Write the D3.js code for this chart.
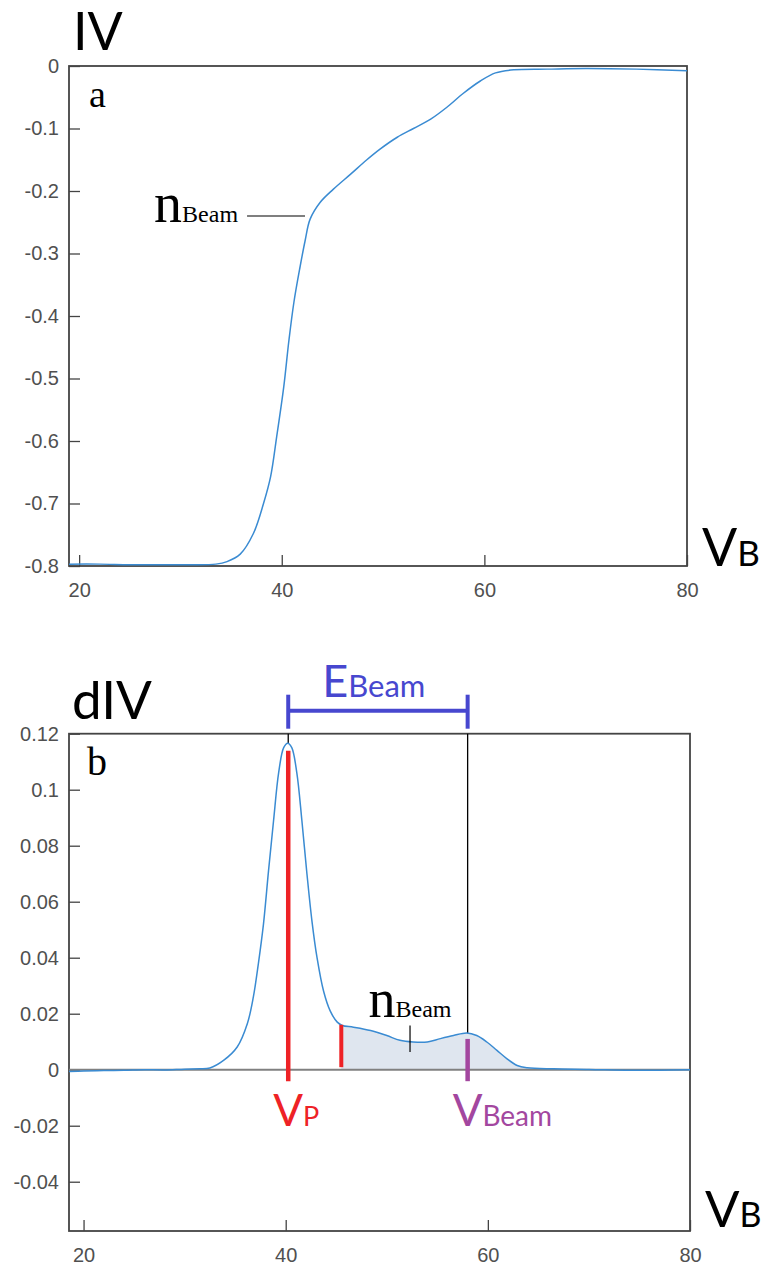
<!DOCTYPE html>
<html>
<head>
<meta charset="utf-8">
<script src="https://cdn.jsdelivr.net/npm/d3@7"></script>
<style>
  html, body { margin: 0; padding: 0; background: #fff; }
  svg { display: block; }
</style>
</head>
<body>
<svg id="chart" width="764" height="1268"></svg>
<script>
// ---------- DATA ----------
// Panel a: IV curve
const vbA = [19.0, 22, 25, 28, 31, 33.5, 34.6, 35.9, 37.2, 38.2, 38.9, 39.5, 40.2, 40.7, 41.2, 41.8, 42.3, 42.8, 43.8, 45.1, 46.8, 48.4, 49.7, 51.4, 53.0, 54.7, 56.3, 57.9, 59.6, 61.1, 62.9, 66.2, 70, 75, 80];
const ivA = [-0.797, -0.797, -0.798, -0.798, -0.798, -0.797, -0.793, -0.781, -0.748, -0.700, -0.657, -0.593, -0.513, -0.440, -0.378, -0.322, -0.280, -0.245, -0.218, -0.197, -0.173, -0.150, -0.133, -0.114, -0.100, -0.085, -0.066, -0.044, -0.024, -0.011, -0.006, -0.005, -0.004, -0.005, -0.0075];

// Panel b: dIV curve
const vbB = [18.56, 20, 22, 24, 26, 28, 30, 31.5, 32.5, 33.85, 35.2, 36.2, 36.8, 37.3, 37.8, 38.3, 38.8, 39.3, 39.8, 40.2, 40.6, 41.1, 41.6, 42.1, 42.6, 43.1, 43.75, 44.4, 45.1, 45.6, 46.7, 48.4, 50.0, 51.3, 52.6, 54.0, 55.3, 56.6, 57.9, 58.9, 59.9, 60.9, 61.9, 62.9, 63.9, 66.5, 70, 74, 77, 80];
const divB = [-0.0006, -0.0005, -0.0003, -0.0002, 0.0000, -0.0001, 0.0002, 0.0003, 0.0006, 0.0033, 0.0081, 0.0164, 0.026, 0.038, 0.052, 0.071, 0.089, 0.106, 0.115, 0.1166, 0.115, 0.106, 0.089, 0.070, 0.053, 0.040, 0.028, 0.021, 0.017, 0.0158, 0.0152, 0.014, 0.0122, 0.0105, 0.0099, 0.0099, 0.0111, 0.0122, 0.0131, 0.0122, 0.0099, 0.0069, 0.0039, 0.0015, 0.0007, 0.0003, 0.0001, -0.0002, -0.0002, 0.0000];

// Tick values
const xTicks = [20, 40, 60, 80];
const yTicksA = [0, -0.1, -0.2, -0.3, -0.4, -0.5, -0.6, -0.7, -0.8];
const yTicksB = [0.12, 0.1, 0.08, 0.06, 0.04, 0.02, 0, -0.02, -0.04];

// Annotation values
const nBeamA = [42.3, -0.24];   // point marked on IV curve
const vP = 40.25;               // plasma potential
const vBeam = 58;               // beam potential
const nStart = 45.5;            // start of beam density region
const nMarkB = 52.3;            // nBeam marker in panel b

// ---------- DRAW ----------
const svg = d3.select("#chart");
const curveColor = "#3a8bd2";
const frameColor = "#444";
const tickFont = "'Liberation Sans', Arial, sans-serif";
const labelFont = "Lato, 'Open Sans', sans-serif";
const serifFont = "'Liberation Serif', 'Times New Roman', serif";
const smooth = d3.curveCatmullRom.alpha(0.5);

function drawFrame(x, y, xt, yt) {
  const [x0, x1] = x.range();
  const [y0, y1] = y.range(); // y0 bottom, y1 top
  const gx = svg.append("g").attr("transform", `translate(0,${y0})`)
    .call(d3.axisBottom(x).tickValues(xt).tickSizeInner(-11).tickSizeOuter(0).tickPadding(17).tickFormat(d => String(d)));
  const gy = svg.append("g").attr("transform", `translate(${x0},0)`)
    .call(d3.axisLeft(y).tickValues(yt).tickSizeInner(-11).tickSizeOuter(0).tickPadding(10).tickFormat(d => String(d)));
  [gx, gy].forEach(g => {
    g.select(".domain").remove();
    g.selectAll(".tick line").attr("stroke", frameColor).attr("stroke-width", 1.3);
    g.selectAll(".tick text").attr("fill", "#505050").style("font-family", tickFont).style("font-size", "20px");
  });
  svg.append("rect").attr("x", x0).attr("y", y1).attr("width", x1 - x0).attr("height", y0 - y1)
    .attr("fill", "none").attr("stroke", frameColor).attr("stroke-width", 1.8);
}

// ----- Panel a -----
const xA = d3.scaleLinear().domain([19, 80]).range([69, 687]);
const yA = d3.scaleLinear().domain([-0.8, 0]).range([566, 66]);
const dataA = vbA.map((v, i) => [v, ivA[i]]);

drawFrame(xA, yA, xTicks, yTicksA);

svg.append("path").datum(dataA)
  .attr("d", d3.line().x(d => xA(d[0])).y(d => yA(d[1])).curve(smooth))
  .attr("fill", "none").attr("stroke", curveColor).attr("stroke-width", 1.5);

// labels panel a
svg.append("text").attr("x", xA.range()[0] + 4).attr("y", yA.range()[1] - 16)
  .style("font-family", labelFont).style("font-size", "52px").attr("fill", "#000").text("IV");
svg.append("text").attr("x", xA.range()[0] + 20).attr("y", yA.range()[1] + 41)
  .style("font-family", serifFont).style("font-size", "38px").attr("fill", "#000").text("a");
{
  const t = svg.append("text").attr("x", xA.range()[1] + 15).attr("y", yA.range()[0])
    .style("font-family", labelFont).attr("fill", "#000");
  t.append("tspan").style("font-size", "52px").text("V");
  t.append("tspan").style("font-size", "35px").text("B");
}
{
  const ex = xA(nBeamA[0]), ey = yA(nBeamA[1]);
  svg.append("line").attr("x1", ex - 58).attr("x2", ex).attr("y1", ey).attr("y2", ey)
    .attr("stroke", "#000").attr("stroke-width", 1.2);
  const t = svg.append("text").attr("x", ex - 67).attr("y", ey + 6).attr("text-anchor", "end")
    .style("font-family", serifFont).attr("fill", "#000");
  t.append("tspan").style("font-size", "56px").text("n");
  t.append("tspan").style("font-size", "24px").text("Beam");
}

// ----- Panel b -----
const xB = d3.scaleLinear().domain([18.56, 80]).range([69, 690]);
const yB = d3.scaleLinear().domain([-0.0576, 0.12]).range([1231, 733.7]);
const dataB = vbB.map((v, i) => [v, divB[i]]);

drawFrame(xB, yB, xTicks, yTicksB);

// shaded nBeam region
const lineInterp = v => {
  const i = d3.bisector(d => d[0]).right(dataB, v);
  const a = dataB[i - 1], b = dataB[i];
  return a[1] + (b[1] - a[1]) * (v - a[0]) / (b[0] - a[0]);
};
const fillData = [[nStart, lineInterp(nStart)]].concat(dataB.filter(d => d[0] > nStart && d[0] <= 66.5));
svg.append("path").datum(fillData)
  .attr("d", d3.area().x(d => xB(d[0])).y0(yB(0)).y1(d => yB(Math.max(d[1], 0))).curve(smooth))
  .attr("fill", "#dfe6ef");

// zero line
svg.append("line").attr("x1", xB.range()[0]).attr("x2", xB.range()[1]).attr("y1", yB(0)).attr("y2", yB(0))
  .attr("stroke", "#808080").attr("stroke-width", 2);

// black guide lines from top frame to curve
const yTopB = yB.range()[1];
svg.append("line").attr("x1", xB(vBeam)).attr("x2", xB(vBeam)).attr("y1", yTopB).attr("y2", yB(lineInterp(vBeam)))
  .attr("stroke", "#000").attr("stroke-width", 1.3);
svg.append("line").attr("x1", xB(vP)).attr("x2", xB(vP)).attr("y1", yTopB).attr("y2", yB(lineInterp(vP)))
  .attr("stroke", "#000").attr("stroke-width", 1.3);

// curve
svg.append("path").datum(dataB)
  .attr("d", d3.line().x(d => xB(d[0])).y(d => yB(d[1])).curve(smooth))
  .attr("fill", "none").attr("stroke", curveColor).attr("stroke-width", 1.5);

// VP red line
svg.append("line").attr("x1", xB(vP)).attr("x2", xB(vP)).attr("y1", yB(0.1139)).attr("y2", yB(-0.0041))
  .attr("stroke", "#ee2226").attr("stroke-width", 4.5);
// nBeam start red line
svg.append("line").attr("x1", xB(nStart)).attr("x2", xB(nStart)).attr("y1", yB(lineInterp(nStart))).attr("y2", yB(0.0009))
  .attr("stroke", "#ee2226").attr("stroke-width", 4);
// VBeam purple line
svg.append("line").attr("x1", xB(vBeam)).attr("x2", xB(vBeam)).attr("y1", yB(0.011)).attr("y2", yB(-0.0041))
  .attr("stroke", "#a3479f").attr("stroke-width", 4.5);
// nBeam marker
svg.append("line").attr("x1", xB(nMarkB)).attr("x2", xB(nMarkB)).attr("y1", yB(0.0158)).attr("y2", yB(0.0063))
  .attr("stroke", "#000").attr("stroke-width", 1.2);

// EBeam bracket
const eCol = "#4747cf";
svg.append("line").attr("x1", xB(vP)).attr("x2", xB(vBeam)).attr("y1", yTopB - 23).attr("y2", yTopB - 23)
  .attr("stroke", eCol).attr("stroke-width", 4);
[vP, vBeam].forEach(v => {
  svg.append("line").attr("x1", xB(v)).attr("x2", xB(v)).attr("y1", yTopB - 39).attr("y2", yTopB - 5)
    .attr("stroke", eCol).attr("stroke-width", 4);
});

// labels panel b
svg.append("text").attr("x", xB.range()[0] + 3).attr("y", yTopB - 15)
  .style("font-family", labelFont).style("font-size", "53px").attr("fill", "#000").text("dIV");
svg.append("text").attr("x", xB.range()[0] + 18).attr("y", yTopB + 41)
  .style("font-family", serifFont).style("font-size", "40px").attr("fill", "#000").text("b");
{
  const t = svg.append("text").attr("x", xB.range()[1] + 15).attr("y", yB.range()[0] - 4)
    .style("font-family", labelFont).attr("fill", "#000");
  t.append("tspan").style("font-size", "51px").text("V");
  t.append("tspan").style("font-size", "34px").text("B");
}
{
  const t = svg.append("text").attr("x", xB(vP) + 34).attr("y", yTopB - 37)
    .style("font-family", labelFont).attr("fill", eCol);
  t.append("tspan").style("font-size", "45px").text("E");
  t.append("tspan").style("font-size", "31px").text("Beam");
}
{
  const t = svg.append("text").attr("x", xB(vP) - 15).attr("y", yB(0) + 56)
    .style("font-family", labelFont).attr("fill", "#ee2226");
  t.append("tspan").style("font-size", "44px").text("V");
  t.append("tspan").style("font-size", "27px").text("P");
}
{
  const t = svg.append("text").attr("x", xB(vBeam) - 15).attr("y", yB(0) + 56)
    .style("font-family", labelFont).attr("fill", "#a3479f");
  t.append("tspan").style("font-size", "44px").text("V");
  t.append("tspan").style("font-size", "28px").text("Beam");
}
{
  const t = svg.append("text").attr("x", xB(nMarkB)).attr("y", yB(0.0187)).attr("text-anchor", "middle")
    .style("font-family", serifFont).attr("fill", "#000");
  t.append("tspan").style("font-size", "54px").text("n");
  t.append("tspan").style("font-size", "24px").text("Beam");
}
</script>
</body>
</html>
